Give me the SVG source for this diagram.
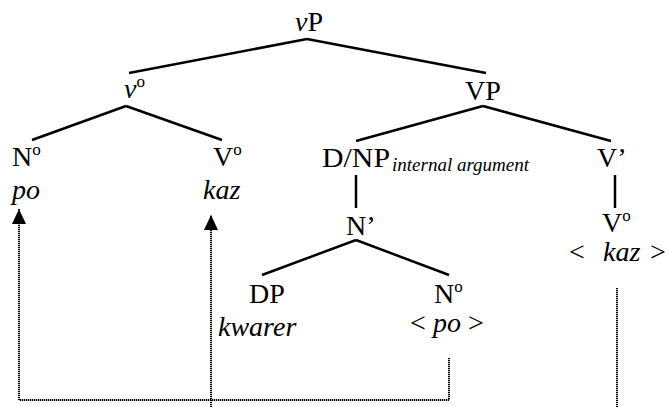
<svg xmlns="http://www.w3.org/2000/svg" width="668" height="407" viewBox="0 0 668 407">
<defs>
<style>
text{font-size:28px;fill:#000}
.i{font-style:italic}
.sup{font-size:17px}
.sub{font-size:19px;font-style:italic}
.edge{stroke:#000;stroke-width:2.5;fill:none}
.dot{stroke:#000;stroke-width:2;fill:none;stroke-dasharray:1.3 0.7}
</style>
<marker id="ah" markerUnits="userSpaceOnUse" markerWidth="16" markerHeight="16" refX="15" refY="8" orient="auto">
<path d="M0,1 L15,8 L0,15 Z" fill="#000"/>
</marker>
</defs>
<rect width="668" height="407" fill="#fff"/>
<g id="connectors">
<line class="edge" x1="307" y1="39" x2="129" y2="73"/>
<line class="edge" x1="307" y1="39" x2="486" y2="73"/>
<line class="edge" x1="126" y1="106" x2="32" y2="140"/>
<line class="edge" x1="126" y1="106" x2="222" y2="140"/>
<line class="edge" x1="483" y1="106" x2="356" y2="141"/>
<line class="edge" x1="483" y1="106" x2="611" y2="141"/>
<line class="edge" x1="356" y1="175" x2="356" y2="208"/>
<line class="edge" x1="615" y1="175" x2="615" y2="208"/>
<line class="edge" x1="356" y1="240" x2="262" y2="275"/>
<line class="edge" x1="356" y1="240" x2="449" y2="275"/>
<path class="dot" d="M449,358 V400 H19 V209" marker-end="url(#ah)"/>
<path class="dot" d="M211,407 V215" marker-end="url(#ah)"/>
<path class="dot" d="M617,288 V407"/>
</g>
<g font-family="Liberation Serif, Times New Roman, serif">
<g id="vP"><text x="295" y="31"><tspan class="i">v</tspan>P</text></g>
<g id="v0"><text x="124" y="98"><tspan class="i">v</tspan><tspan class="sup" dy="-11">o</tspan></text></g>
<g id="N0-left"><text x="12" y="166">N<tspan class="sup" dy="-11">o</tspan></text><text class="i" x="12" y="199">po</text></g>
<g id="V0-left"><text x="213" y="166">V<tspan class="sup" dy="-11">o</tspan></text><text class="i" x="203" y="199">kaz</text></g>
<g id="VP"><text x="465" y="100">VP</text></g>
<g id="DNP"><text x="322" y="167" textLength="68" lengthAdjust="spacingAndGlyphs">D/NP</text><text class="sub" x="392" y="171">internal argument</text></g>
<g id="Vbar"><text x="597" y="167">V’</text></g>
<g id="Nbar"><text x="346" y="235">N’</text></g>
<g id="V0-right"><text x="602" y="232">V<tspan class="sup" dy="-11">o</tspan></text><text y="261"><tspan x="569">&lt;</tspan><tspan class="i" x="603">kaz</tspan><tspan x="650">&gt;</tspan></text></g>
<g id="DP"><text x="249" y="303">DP</text><text class="i" x="218" y="336">kwarer</text></g>
<g id="N0-right"><text x="434" y="303">N<tspan class="sup" dy="-11">o</tspan></text><text y="332"><tspan x="410">&lt;</tspan><tspan class="i" x="433">po</tspan><tspan x="468">&gt;</tspan></text></g>
</g>
</svg>
